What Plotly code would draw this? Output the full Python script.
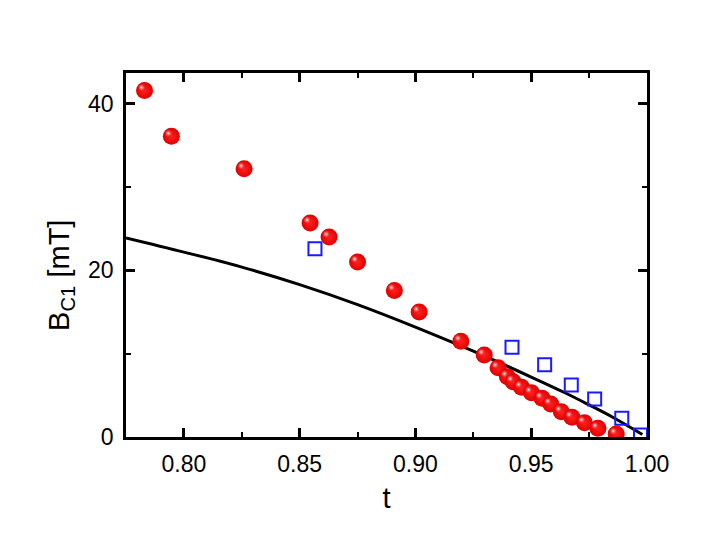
import plotly.graph_objects as go

# reduced temperature t and Bc1 (mT)
t_exp = [0.783, 0.7946, 0.826, 0.8545, 0.8627, 0.875, 0.8909, 0.9016, 0.9196,
         0.9297, 0.9357, 0.9397, 0.9422, 0.9458, 0.9501, 0.9547, 0.9584, 0.963,
         0.9676, 0.973, 0.9788, 0.9867]
bc1_exp = [41.6, 36.1, 32.2, 25.7, 24.0, 21.0, 17.6, 15.0, 11.5,
           9.84, 8.3, 7.24, 6.64, 5.96, 5.32, 4.64, 3.96, 3.04,
           2.36, 1.72, 1.04, 0.36]

t_sq = [0.8566, 0.9417, 0.9558, 0.9673, 0.9774, 0.9891, 0.9972]
bc1_sq = [22.6, 10.76, 8.68, 6.24, 4.56, 2.24, 0.24]

t_fit = [0.775, 0.80, 0.825, 0.85, 0.875, 0.90, 0.925, 0.95, 0.965, 0.975, 0.985, 0.998]
bc1_fit = [23.9, 22.2, 20.4, 18.3, 15.9, 13.2, 10.3, 7.2, 5.25, 3.85, 2.4, 0.3]

FONT = "Liberation Sans, Arial"

fig = go.Figure()

fig.add_trace(go.Scatter(x=t_fit, y=bc1_fit, mode="lines",
                         line=dict(color="black", width=3, shape="spline", smoothing=1.0),
                         showlegend=False))

fig.add_trace(go.Scatter(x=t_sq, y=bc1_sq, mode="markers",
                         marker=dict(symbol="square-open", size=13, color="#1a1aff",
                                     line=dict(width=2, color="#1a1aff")),
                         showlegend=False))

# red spheres: body + small highlight shifted up-left
fig.add_trace(go.Scatter(x=t_exp, y=bc1_exp, mode="markers",
                         marker=dict(symbol="circle", size=17, color="#e00000",
                                     gradient=dict(type="radial", color="#ff2020"),
                                     line=dict(width=0)),
                         showlegend=False))
fig.add_trace(go.Scatter(x=[v - 0.0013 for v in t_exp], y=[v + 0.36 for v in bc1_exp],
                         mode="markers",
                         marker=dict(symbol="circle", size=8, color="rgba(255,40,40,0)",
                                     gradient=dict(type="radial", color="white"),
                                     line=dict(width=0)),
                         showlegend=False, hoverinfo="skip"))

axis_common = dict(showline=True, linecolor="black", linewidth=2.5, mirror="allticks",
                   ticks="inside", ticklen=9, tickwidth=2.5, tickcolor="black",
                   showgrid=False, zeroline=False, ticklabelstandoff=5,
                   tickfont=dict(family=FONT, size=23, color="black"))

fig.update_xaxes(range=[0.775, 1.0], dtick=0.05, tickformat=".2f",
                 minor=dict(ticks="inside", ticklen=5, tickwidth=2, dtick=0.025,
                            tickcolor="black"),
                 title=dict(text="t", font=dict(family=FONT, size=29, color="black"),
                            standoff=12),
                 **axis_common)
fig.update_yaxes(range=[0, 43.7], dtick=20,
                 minor=dict(ticks="inside", ticklen=5, tickwidth=2, dtick=10,
                            tickcolor="black"),
                 **axis_common)

# y title as annotation so it can sit a bit below the plot's middle, as in the original
fig.add_annotation(text="B<sub>C1</sub> [mT]", textangle=-90, showarrow=False,
                   xref="paper", yref="paper", x=-0.125, y=0.445,
                   xanchor="center", yanchor="middle",
                   font=dict(family=FONT, size=29, color="black"))

# page body adds an 8px offset, so the figure is 8px smaller on each axis
fig.update_layout(width=702, height=549, plot_bgcolor="white", paper_bgcolor="white",
                  margin=dict(l=118, r=63, t=65, b=120))

fig.write_html("out.html")
